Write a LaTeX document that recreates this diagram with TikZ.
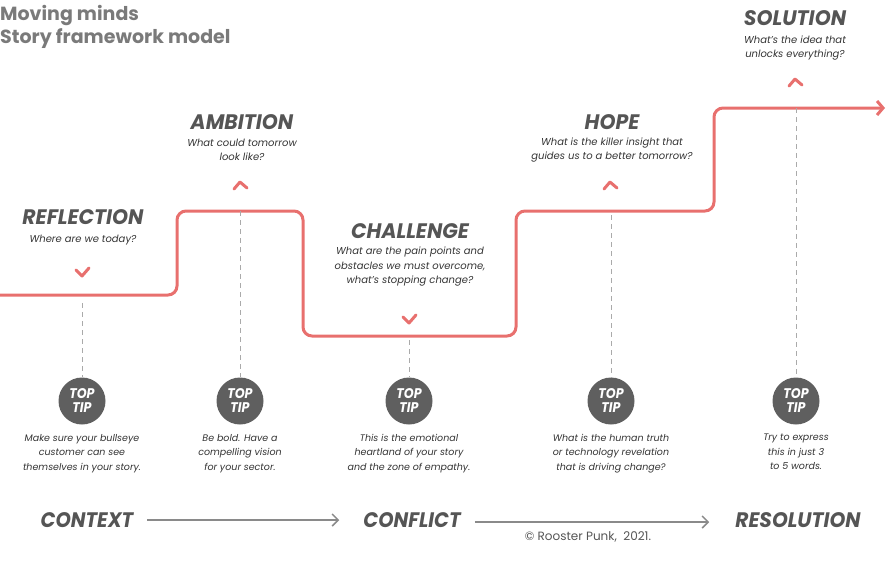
\documentclass[tikz,border=0pt]{standalone}
\usepackage{fontspec}
\setmainfont{Poppins}
\usetikzlibrary{arrows.meta,calc}
\definecolor{stair}{HTML}{E8706E}
\definecolor{ink}{HTML}{555555}
\definecolor{txt}{HTML}{333333}
\definecolor{head}{HTML}{7A7A7A}
\definecolor{tipc}{HTML}{5F5F5F}
\definecolor{dashc}{HTML}{AAAAAA}
\definecolor{flowc}{HTML}{8A8A8A}
\newcommand{\hand}[2][0.97]{\scalebox{#1}[1]{\bfseries\itshape #2}}
\begin{document}
\begin{tikzpicture}[x=1pt,y=-1pt,
  stage/.style={font=\fontsize{21}{21}\selectfont, text=ink, inner sep=0pt},
  quest/.style={font=\fontsize{10}{14.5}\selectfont\itshape, text=txt, align=center, inner sep=0pt},
  tipnote/.style={font=\fontsize{9.5}{14.5}\selectfont\itshape, text=txt, align=center, inner sep=0pt, anchor=north},
  toptip/.style={circle, fill=tipc, minimum size=47pt, inner sep=0pt, text=white, align=center,
     font=\fontsize{14}{14}\selectfont},
  guide/.style={draw=dashc, dash pattern=on 5pt off 4pt, line width=0.7pt},
  tick/.style={draw=stair, line width=3pt, line cap=round, line join=round},
  flow/.style={draw=flowc, line width=1.5pt, -{Straight Barb[length=6pt,width=12pt]}},
  phase/.style={font=\fontsize{21}{21}\selectfont, text=ink, inner sep=0pt}]
\useasboundingbox (0,0) rectangle (888,560);

% header
\node[anchor=north west, inner sep=0pt, text=head, align=left,
  font=\fontsize{19}{23}\selectfont\bfseries] (hdr) at (0,5) {Moving minds\\Story framework model};

% staircase
\coordinate (s0) at (0,295);
\coordinate (p1) at (82,295);
\coordinate (p2) at (240,211);
\coordinate (p3) at (409,336);
\coordinate (p4) at (611,211);
\coordinate (p5) at (796,108);
\coordinate (s9) at (885,108);
\draw[stair, line width=3pt, rounded corners=9pt, -{Straight Barb[length=6pt,width=14pt]}]
  (s0) -- (177,295) -- (177,211) -- (303,211) -- (303,336) -- (516,336) -- (516,211)
  -- (714,211) -- (714,108) -- (s9);

% stage titles and questions
\node[stage] (refl) at (83,217) {\hand{REFLECTION}};
\node[quest] (qrefl) at (83,240) {Where are we today?};
\node[stage] (amb) at (242,122) {\hand{AMBITION}};
\node[quest] (qamb) at (242,150) {What could tomorrow\\look like?};
\node[stage] (chal) at (410,231) {\hand{CHALLENGE}};
\node[quest] (qchal) at (410,267) {What are the pain points and\\obstacles we must overcome,\\what’s stopping change?};
\node[stage] (hope) at (612,122) {\hand{HOPE}};
\node[quest] (qhope) at (612,150) {What is the killer insight that\\guides us to a better tomorrow?};
\node[stage] (sol) at (795,18) {\hand{SOLUTION}};
\node[quest] (qsol) at (795,48) {What’s the idea that\\unlocks everything?};

% marks
\coordinate (m1) at (82,276);
\draw[tick] ($(m1)+(-6,-6)$) -- (m1) -- ($(m1)+(7,-8)$);
\coordinate (m2) at (240,182);
\draw[tick] ($(m2)+(-6,7)$) -- (m2) -- ($(m2)+(7,6)$);
\coordinate (m3) at (409,323);
\draw[tick] ($(m3)+(-6,-6)$) -- (m3) -- ($(m3)+(7,-8)$);
\coordinate (m4) at (610,182);
\draw[tick] ($(m4)+(-6,7)$) -- (m4) -- ($(m4)+(7,6)$);
\coordinate (m5) at (795,79);
\draw[tick] ($(m5)+(-6,7)$) -- (m5) -- ($(m5)+(7,6)$);

% top tips
\node[toptip] (t1) at (82,401) {\hand[0.9]{TOP}\\\hand[0.9]{TIP}};
\node[toptip] (t2) at (240,401) {\hand[0.9]{TOP}\\\hand[0.9]{TIP}};
\node[toptip] (t3) at (409,401) {\hand[0.9]{TOP}\\\hand[0.9]{TIP}};
\node[toptip] (t4) at (611,401) {\hand[0.9]{TOP}\\\hand[0.9]{TIP}};
\node[toptip] (t5) at (796,401) {\hand[0.9]{TOP}\\\hand[0.9]{TIP}};

\draw[guide] ($(p1)+(0,8)$) -- (t1);
\draw[guide] (p2) -- (t2);
\draw[guide] ($(p3)+(0,4)$) -- (t3);
\draw[guide] ($(p4)+(0,4)$) -- (t4);
\draw[guide] (p5) -- (t5);

\node[tipnote] (n1) at (82,434) {Make sure your bullseye\\customer can see\\themselves in your story.};
\node[tipnote] (n2) at (240,434) {Be bold. Have a\\compelling vision\\for your sector.};
\node[tipnote] (n3) at (409,434) {This is the emotional\\heartland of your story\\and the zone of empathy.};
\node[tipnote] (n4) at (611,434) {What is the human truth\\or technology revelation\\that is driving change?};
\node[tipnote] (n5) at (796,434) {Try to express\\this in just 3\\to 5 words.};

% bottom flow
\node[phase] (ctx) at (87,520) {\hand[0.93]{CONTEXT}};
\node[phase] (cfl) at (412,520) {\hand[0.93]{CONFLICT}};
\node[phase] (res) at (798,520) {\hand[0.96]{RESOLUTION}};
\draw[flow] ($(ctx.east)+(14,0)$) -- ($(cfl.west)+(-24,0)$);
\draw[flow] ($(cfl.east)+(14,2)$) -- ($(res.west)+(-26,2)$);
\node[font=\fontsize{12}{12}\selectfont, text=ink, inner sep=0pt] (copy) at (588,537) {© Rooster Punk, \ 2021.};
\end{tikzpicture}
\end{document}
